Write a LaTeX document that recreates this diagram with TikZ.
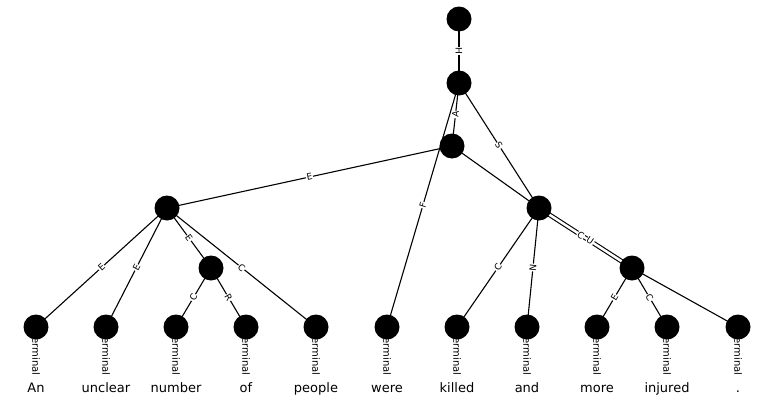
\documentclass[tikz,border=0pt]{standalone}
\usepackage{fontspec}
\setmainfont{DejaVu Sans}
\pgfdeclarelayer{bg}
\pgfsetlayers{bg,main}
\begin{document}
\begin{tikzpicture}[x=1pt,y=-1pt,
  vtx/.style={circle,fill=black,minimum size=25pt,inner sep=0pt},
  lnk/.style={line width=1.1pt},
  elab/.style={midway,sloped,fill=white,inner sep=0.6pt,font=\fontsize{9}{9}\selectfont},
  word/.style={anchor=base,font=\fontsize{13}{13}\selectfont,inner sep=0pt},
  termtxt/.style={rotate=-90,anchor=west,font=\fontsize{10}{10}\selectfont,inner sep=0pt}]
\useasboundingbox (0,0) rectangle (774,407);
% structural nodes
\node[vtx] (r)  at (459,19) {};
\node[vtx] (n1) at (459,83) {};
\node[vtx] (n2) at (452,146) {};
\node[vtx] (n3) at (167,208) {};
\node[vtx] (n4) at (539,208) {};
\node[vtx] (n5) at (211,268) {};
\node[vtx] (n6) at (632,268) {};
% terminals
\foreach \i/\x in {1/36,2/106,3/176,4/246,5/316,6/387,7/457,8/527,9/597,10/667,11/738}{
  \node[vtx] (t\i) at (\x,327) {};
}
% words
\foreach \i/\w in {1/An,2/unclear,3/number,4/of,5/people,6/were,7/killed,8/and,9/more,10/injured,11/.}{
  \node[word] (w\i) at ([yshift=-65pt]t\i.center) {\w};
}
\begin{pgfonlayer}{bg}
\draw[lnk] (r.center) -- (n1.center) node[elab]{H};
\draw[lnk] (n1.center) -- (n2.center) node[elab]{A};
\draw[lnk] (n1.center) -- (t6.center) node[elab]{F};
\draw[lnk] (n1.center) -- (n4.center) node[elab]{S};
\draw[lnk] (n2.center) -- (n3.center) node[elab]{E};
\draw[lnk] (n2.center) -- (n4.center);
\draw[lnk] (n3.center) -- (t1.center) node[elab]{E};
\draw[lnk] (n3.center) -- (t2.center) node[elab]{E};
\draw[lnk] (n3.center) -- (n5.center) node[elab]{E};
\draw[lnk] (n3.center) -- (t5.center) node[elab]{C};
\draw[lnk] (n5.center) -- (t3.center) node[elab]{C};
\draw[lnk] (n5.center) -- (t4.center) node[elab]{R};
\draw[lnk] (n4.center) -- (t7.center) node[elab]{C};
\draw[lnk] (n4.center) -- (t8.center) node[elab]{N};
\draw[lnk,double,double distance=2.5pt] (n4.center) -- (n6.center)
  node[elab,pos=.45]{C} node[elab,pos=.55]{U};
\draw[lnk] (n6.center) -- (t9.center) node[elab]{E};
\draw[lnk] (n6.center) -- (t10.center) node[elab]{C};
\draw[lnk] (n6.center) -- (t11.center);
\begin{scope}
\clip (0,0) rectangle (774,373);
\foreach \i in {1,...,11}{
  \node[termtxt] at ([yshift=-6pt]t\i.center) {Terminal};
}
\end{scope}
\end{pgfonlayer}
\end{tikzpicture}
\end{document}
